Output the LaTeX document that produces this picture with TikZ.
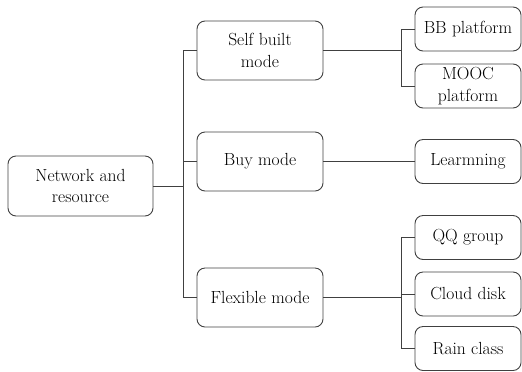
\documentclass[tikz,border=0pt]{standalone}
\definecolor{boxgray}{HTML}{404040}
\begin{document}
\begin{tikzpicture}[x=1bp,y=-1bp,
  box/.style={draw=boxgray, line width=0.9bp, rounded corners=8bp, align=center,
    inner sep=0pt, text=black, font=\fontsize{17.6}{22}\selectfont},
  leafbox/.style={box, minimum width=106bp, minimum height=44bp},
  modebox/.style={box, minimum width=126bp, minimum height=59bp},
  conn/.style={draw=boxgray, line width=0.9bp}]
\useasboundingbox (0,0) rectangle (522,371);
\node[box, minimum width=145bp, minimum height=60bp] (net) at (80.5,186) {Network and\\resource};
\node[modebox] (self) at (260,50.5) {Self built\\mode};
\node[modebox] (buy) at (260,161.5) {Buy mode};
\node[modebox] (flex) at (260,297.5) {Flexible mode};
\node[leafbox] (bb) at (468,29) {BB platform};
\node[leafbox] (mooc) at (468,86) {MOOC\\platform};
\node[leafbox] (learn) at (468,161.5) {Learmning};
\node[leafbox] (qq) at (468,237.5) {QQ group};
\node[leafbox] (cloud) at (468,294) {Cloud disk};
\node[leafbox] (rain) at (468,348.5) {Rain class};
\coordinate (trunk) at (183,186);
\coordinate (sub1) at (401,50.5);
\coordinate (sub2) at (401,297.5);
\draw[conn] (net.east) -- (trunk);
\draw[conn] (trunk) |- (self.west);
\draw[conn] (trunk) |- (buy.west);
\draw[conn] (trunk) |- (flex.west);
\draw[conn] (self.east) -- (sub1);
\draw[conn] (sub1) |- (bb.west);
\draw[conn] (sub1) |- (mooc.west);
\draw[conn] (buy.east) -- (learn.west);
\draw[conn] (flex.east) -- (sub2);
\draw[conn] (sub2) |- (qq.west);
\draw[conn] (sub2) |- (cloud.west);
\draw[conn] (sub2) |- (rain.west);
\end{tikzpicture}
\end{document}
